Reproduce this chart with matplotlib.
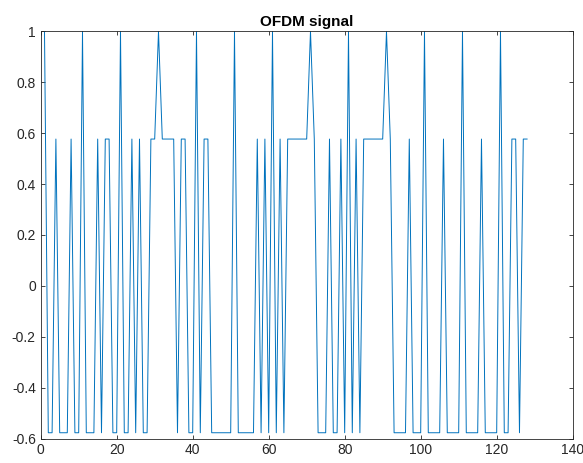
import numpy as np
import matplotlib.pyplot as plt

plt.rcParams['font.family'] = ['Liberation Sans', 'DejaVu Sans']

# sample levels
H = 1.0
M = 0.577
L = -0.577

# OFDM samples 1..128
signal = [
    H, L, L, M, L, L, L, M, L, L,      # 1-10
    H, L, L, L, M, L, M, M, L, L,      # 11-20
    H, L, L, M, L, M, L, L, M, M,      # 21-30
    H, M, M, M, M, L, M, M, L, L,      # 31-40
    H, L, M, M, L, L, L, L, L, L,      # 41-50
    H, L, L, L, L, L, M, L, M, L,      # 51-60
    H, L, M, L, M, M, M, M, M, M,      # 61-70
    H, M, L, L, L, M, L, L, M, L,      # 71-80
    H, L, M, L, M, M, M, M, M, M,      # 81-90
    H, M, L, L, L, L, M, L, L, L,      # 91-100
    H, L, L, L, L, M, L, L, L, L,      # 101-110
    H, L, L, L, L, M, L, L, L, L,      # 111-120
    H, L, L, M, M, L, M, M,            # 121-128
]
n = np.arange(1, len(signal) + 1)

xticks = np.arange(0, 141, 20)
yticks = np.round(np.arange(-0.6, 1.01, 0.2), 1)

fig = plt.figure(figsize=(5.83, 4.63), dpi=100)
ax = fig.add_axes([0.0698, 0.0527, 0.9125, 0.8795])
ax.plot(n, signal, color=(0, 0.447, 0.741), linewidth=0.7)

ax.set_xlim(0, 140)
ax.set_ylim(-0.6, 1)
ax.set_xticks(xticks)
ax.set_yticks(yticks)
ax.set_yticklabels([('%g' % v) for v in yticks])
ax.tick_params(direction='in', length=3, width=0.6, labelsize=10,
               colors='#262626', top=True, right=True, labeltop=False, labelright=False)
for s in ax.spines.values():
    s.set_color('#262626')
    s.set_linewidth(0.6)
ax.set_title('OFDM signal', fontsize=11, fontweight='bold', pad=4)

fig.savefig('out.png', dpi=100)
